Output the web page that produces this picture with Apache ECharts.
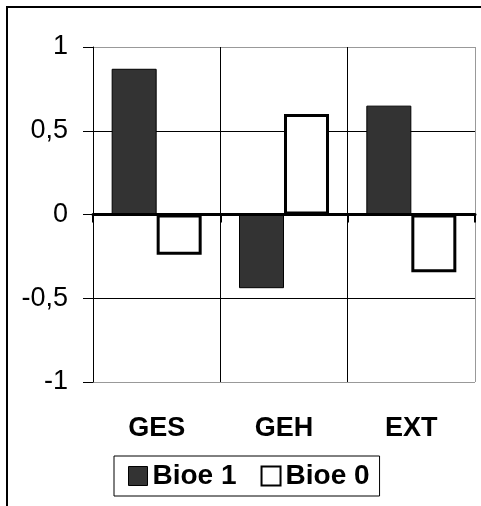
<!DOCTYPE html>
<html>
<head>
<meta charset="utf-8">
<script src="https://cdn.jsdelivr.net/npm/echarts@6/dist/echarts.min.js"></script>
<style>
html,body{margin:0;padding:0;background:#fff;}
#chart{width:481px;height:506px;}
</style>
</head>
<body>
<div id="chart"></div>
<script>
var categories = ['GES', 'GEH', 'EXT'];
var bioe1 = [0.87, -0.44, 0.65];
var bioe0 = [-0.24, 0.6, -0.345];
var yTicks = { min: -1, max: 1, interval: 0.5 };

var FONT = "'Liberation Sans Narrow', 'Arial Narrow', 'Liberation Sans', Arial, sans-serif";

var chart = echarts.init(document.getElementById('chart'), null, { renderer: 'canvas' });
chart.setOption({
  animation: false,
  backgroundColor: '#fff',
  graphic: [{
    type: 'rect',
    shape: { x: 7, y: 7, width: 520, height: 540 },
    style: { fill: 'none', stroke: '#000', lineWidth: 2 },
    silent: true,
    z: 100
  }],
  grid: { left: 93, top: 47, width: 382, height: 335, show: false },
  legend: {
    data: [
      { name: 'Bioe 1', icon: 'rect', itemStyle: { color: '#333333', borderColor: '#000', borderWidth: 1 } },
      { name: 'Bioe 0', icon: 'rect', itemStyle: { color: '#ffffff', borderColor: '#000', borderWidth: 2 } }
    ],
    left: 114,
    top: 456,
    itemWidth: 19,
    itemHeight: 19,
    itemGap: 24,
    padding: [6, 10, 6, 14],
    borderColor: '#000',
    borderWidth: 1,
    textStyle: { fontFamily: FONT, fontSize: 28, fontWeight: 'bold', color: '#000', padding: [2, 0, 0, 0] }
  },
  xAxis: [{
    type: 'category',
    data: categories,
    position: 'bottom',
    axisLine: { onZero: true, lineStyle: { color: '#000', width: 3 } },
    axisTick: { show: true, length: 8, lineStyle: { color: '#000', width: 2 } },
    axisLabel: { show: false },
    splitLine: { show: true, lineStyle: { color: ['#000', '#000', '#000', '#999'], width: 1 } },
    z: 5
  }, {
    type: 'category',
    data: categories,
    position: 'bottom',
    axisLine: { show: false, onZero: false },
    axisTick: { show: false },
    axisLabel: { show: true, margin: 33, fontFamily: FONT, fontSize: 27, fontWeight: 'bold', color: '#000' },
    splitLine: { show: false }
  }],
  yAxis: {
    type: 'value',
    min: yTicks.min,
    max: yTicks.max,
    interval: yTicks.interval,
    axisLine: { show: true, lineStyle: { color: '#000', width: 1 } },
    axisTick: { show: true, length: 10, lineStyle: { color: '#000', width: 1 } },
    axisLabel: {
      margin: 25,
      fontFamily: FONT,
      fontSize: 27,
      color: '#000',
      formatter: function (v) { return String(v).replace('.', ','); }
    },
    splitLine: { show: true, lineStyle: { color: ['#999', '#000', '#000', '#000', '#999'], width: 1 } }
  },
  series: [{
    name: 'Bioe 1',
    type: 'bar',
    data: bioe1,
    barWidth: 45,
    barGap: '0%',
    itemStyle: { color: '#333333', borderColor: '#000', borderWidth: 1 },
    z: 2
  }, {
    name: 'Bioe 0',
    type: 'bar',
    data: bioe0,
    barWidth: 45,
    barGap: '0%',
    itemStyle: { color: '#ffffff', borderColor: '#000', borderWidth: 3 },
    z: 2
  }]
});
</script>
</body>
</html>
